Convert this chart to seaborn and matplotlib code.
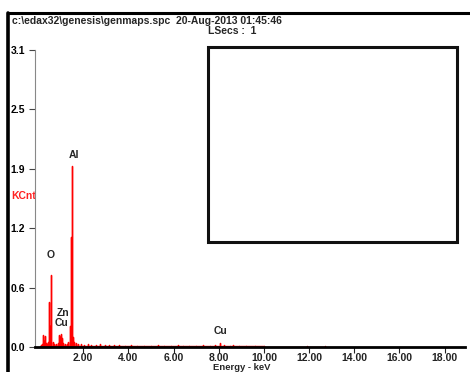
import numpy as np
import pandas as pd
import matplotlib.pyplot as plt
from matplotlib.lines import Line2D
from matplotlib.patches import Rectangle
import seaborn as sns

# %% data (energy in keV, counts in KCnt)

energies = [0.12, 0.18, 0.23, 0.26, 0.31, 0.36, 0.40, 0.45, 0.49, 0.52, 0.56,
            0.60, 0.66, 0.72, 0.80, 0.88, 0.93, 0.96, 0.99, 1.02, 1.06, 1.12,
            1.20, 1.28, 1.34, 1.40, 1.43, 1.46, 1.49, 1.52, 1.55, 1.60, 1.68,
            1.78, 1.90, 2.05, 2.20, 2.35, 2.55, 2.75, 2.95, 3.15, 3.35, 3.60,
            3.85, 4.10, 4.40, 4.70, 5.00, 5.30, 5.60, 5.90, 6.20, 6.40, 6.70,
            7.00, 7.30, 7.60, 7.85, 8.04, 8.25, 8.50, 8.63, 8.90, 9.20, 9.60,
            10.0, 11.9, 12.7]
counts = [0.02, 0.03, 0.13, 0.06, 0.12, 0.04, 0.03, 0.05, 0.47, 0.22, 0.75,
          0.12, 0.05, 0.03, 0.03, 0.04, 0.13, 0.08, 0.10, 0.14, 0.09, 0.04,
          0.03, 0.03, 0.05, 0.18, 0.22, 1.15, 1.89, 0.25, 0.10, 0.05, 0.04,
          0.03, 0.03, 0.02, 0.03, 0.02, 0.02, 0.03, 0.02, 0.02, 0.02, 0.02,
          0.015, 0.02, 0.015, 0.015, 0.015, 0.02, 0.015, 0.015, 0.02, 0.015, 0.015,
          0.015, 0.02, 0.015, 0.02, 0.04, 0.02, 0.015, 0.02, 0.015, 0.015, 0.01,
          0.01, 0.01, 0.01]

# flat background trace under the sticks
bg_energy = [0.10, 10.0]
bg_kcnt = [0.01, 0.01]

peak_labels = ["O", "Al", "Zn", "Cu", "Cu"]
peak_pos = [(0.56, 0.96), (1.58, 2.0), (1.12, 0.36), (1.05, 0.25), (8.1, 0.17)]

xticks = [2, 4, 6, 8, 10, 12, 14, 16, 18]
yticks = [0.0, 0.62, 1.24, 1.86, 2.48, 3.1]

title = r"c:\edax32\genesis\genmaps.spc  20-Aug-2013 01:45:46"

# %% plot

sns.set_style("white")
plt.rcParams['font.family'] = ['Liberation Sans', 'DejaVu Sans']
plt.rcParams['font.weight'] = 'bold'

fig = plt.figure(figsize=(4.7, 3.72), dpi=100)
ax = fig.add_axes([35 / 470, 25 / 372, 430 / 470, 297 / 372])

# each channel is drawn as a thin vertical stick from the baseline
spec = pd.DataFrame({
    "energy": np.repeat(energies, 3),
    "kcnt": np.ravel([[0, c, 0] for c in counts]),
})
sns.lineplot(data=spec, x="energy", y="kcnt", sort=False, estimator=None,
             color="#ff0000", lw=1.0, ax=ax)
sns.lineplot(x=bg_energy, y=bg_kcnt, color="#ff0000", lw=1.0, ax=ax)

for lab, (xe, yc) in zip(peak_labels, peak_pos):
    ax.text(xe, yc, lab, fontsize=7.5, fontweight='bold', ha='center', va='center')

ax.set_xlim(-0.13, 18.9)
ax.set_ylim(0, 3.1)
ax.set_xticks(xticks)
ax.set_xticklabels([f"{t:.2f}" for t in xticks])
ax.set_yticks(yticks)
ax.set_yticklabels([f"{t:.1f}" for t in yticks])
ax.tick_params(axis='both', labelsize=7.5, length=4, width=0.8, pad=3,
               colors='#222222', left=True, bottom=True, direction='out')
ax.tick_params(axis='x', pad=0)
ax.tick_params(axis='y', colors='#444444', labelcolor='black')

ax.set_xlabel("Energy - keV", fontsize=6.8, fontweight='bold', va='bottom')
ax.xaxis.set_label_coords(0.48, -24.5 / 297)
ax.set_ylabel("KCnt", fontsize=7.5, fontweight='bold', color='#ff2020',
              rotation=0, ha='center', va='center')
ax.yaxis.set_label_coords(-0.026, 0.508)

sns.despine(ax=ax, top=True, right=True)
ax.spines['left'].set_color('#888888')
ax.spines['left'].set_linewidth(0.8)
ax.spines['bottom'].set_color('black')
ax.spines['bottom'].set_linewidth(2)

# header text and frame
fig.text(12 / 470, 1 - 21 / 372, title, fontsize=7.5, fontweight='bold',
         va='center', ha='left')
fig.text(232 / 470, 1 - 31 / 372, "LSecs :  1", fontsize=7.5, fontweight='bold',
         va='center', ha='center')

fig.add_artist(Line2D([8 / 470, 1], [1 - 13 / 372] * 2, color='black', lw=2.2,
                      transform=fig.transFigure))
fig.add_artist(Line2D([8 / 470] * 2, [0, 1 - 13 / 372], color='black', lw=2.6,
                      transform=fig.transFigure))
fig.add_artist(Rectangle((208 / 470, 1 - 242 / 372), 249 / 470, 195 / 372,
                         fill=False, lw=2.2, edgecolor='#111111',
                         transform=fig.transFigure))

fig.savefig("out.png", dpi=100)
